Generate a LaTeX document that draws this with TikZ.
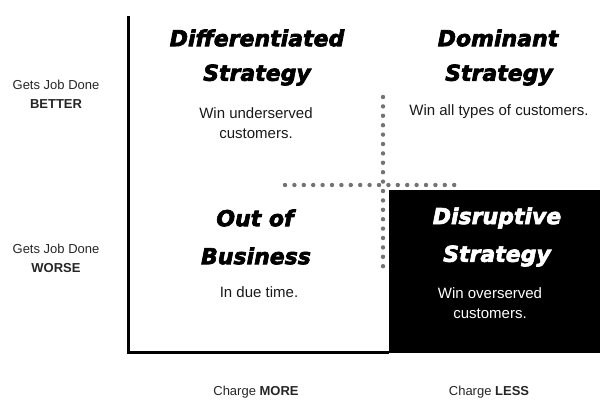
\documentclass[tikz,border=0pt]{standalone}
\usepackage{fontspec}
\setmainfont{Liberation Sans}
\newfontfamily\headfont{DejaVu Sans}[FakeBold=3]
\usetikzlibrary{positioning}
\tikzset{
    heading/.style={
        font=\headfont\bfseries\itshape\fontsize{22}{22}\selectfont,
        align=center,
        inner sep=0pt,
    },
    blurb/.style={
        font=\fontsize{15}{20}\selectfont,
        align=center,
        inner sep=0pt,
        text=black!90,
    },
    axislabel/.style={
        font=\fontsize{13}{19}\selectfont,
        align=center,
        inner sep=0pt,
        text=black!85,
    },
    axis/.style={
        draw=black,
        line width=3pt,
    },
    dots/.style={
        draw=black!55,
        line width=4.4pt,
        line cap=round,
        dash pattern=on 0pt off 9.4pt,
    },
}
\begin{document}
\begin{tikzpicture}[x=1pt,y=-1pt]
    \useasboundingbox (0,0) rectangle (615,413);
    % quadrant box and axes
    \fill[black] (389,190) rectangle (600,353);
    \coordinate (top) at (128,16);
    \coordinate (origin) at (128,352);
    \coordinate (right) at (389,352);
    \draw[axis] (top) -- (origin) -- (right);
    % dotted cross
    \coordinate (vtop) at (383,97);
    \coordinate (vbot) at (383,268);
    \coordinate (hleft) at (285,185);
    \coordinate (hright) at (458,185);
    \draw[dots] (vtop) -- (vbot);
    \draw[dots] (hleft) -- (hright);
    % quadrants
    \node[heading] (diff) at (257,38) {Differentiated};
    \node[heading] (diffs) at (257,75) {Strategy};
    \node[blurb] (diffb) at (256,123) {Win underserved\\customers.};
    \node[heading] (dom) at (498,38) {Dominant};
    \node[heading] (doms) at (499,75) {Strategy};
    \node[blurb] (domb) at (499,112) {Win all types of customers.};
    \node[heading] (out) at (255,218) {Out of};
    \node[heading] (outs) at (256,256) {Business};
    \node[blurb] (outb) at (259,292) {In due time.};
    \node[heading,text=white] (dis) at (497,218) {Disruptive};
    \node[heading,text=white] (diss) at (497,256) {Strategy};
    \node[blurb,text=white] (disb) at (490,303) {Win overserved\\customers.};
    % axis labels
    \node[axislabel] (better) at (56,94) {Gets Job Done\\\textbf{BETTER}};
    \node[axislabel] (worse) at (56,258) {Gets Job Done\\\textbf{WORSE}};
    \node[axislabel] (more) at (256,392) {Charge \textbf{MORE}};
    \node[axislabel] (less) at (489,392) {Charge \textbf{LESS}};
\end{tikzpicture}
\end{document}
